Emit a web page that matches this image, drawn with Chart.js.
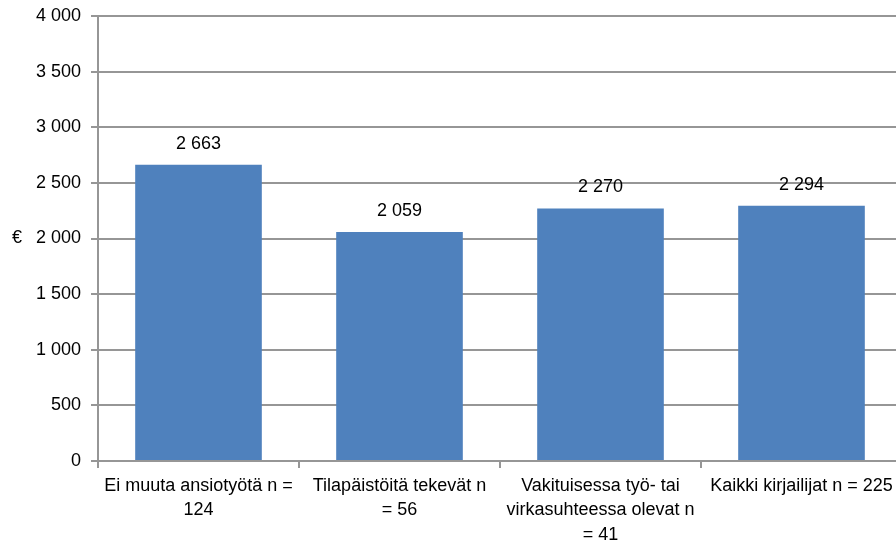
<!DOCTYPE html>
<html>
<head>
<meta charset="utf-8">
<script src="https://cdn.jsdelivr.net/npm/chart.js@4"></script>
<style>
  html, body { margin: 0; padding: 0; background: #fff; overflow: hidden; }
</style>
</head>
<body>
<canvas id="chart" width="904" height="547"></canvas>
<script>
const categories = [
    ['Ei muuta ansiotyötä n =', '124'],
    ['Tilapäistöitä tekevät n', '= 56'],
    ['Vakituisessa työ- tai', 'virkasuhteessa olevat n', '= 41'],
    'Kaikki kirjailijat n = 225'
];
const earnings = [2663, 2059, 2270, 2294];
const yMin = 0, yMax = 4000, yStep = 500;
const yTitle = '€';

function fmt(v) {
    return String(v).replace(/\B(?=(\d{3})+(?!\d))/g, ' ');
}

const gridColor = '#969696';
Chart.defaults.font.family = "'Liberation Sans', Arial, sans-serif";
Chart.defaults.font.size = 18;
Chart.defaults.color = '#000';

// value labels over bars + horizontal axis title
const barLabels = {
    id: 'barLabels',
    afterDatasetsDraw(chart) {
        const ctx = chart.ctx;
        ctx.save();
        ctx.font = "18px 'Liberation Sans', Arial, sans-serif";
        ctx.fillStyle = '#000';
        ctx.textAlign = 'center';
        ctx.textBaseline = 'middle';
        chart.getDatasetMeta(0).data.forEach((bar, i) => {
            ctx.fillText(fmt(earnings[i]), bar.x, bar.y - 21);
        });
        const area = chart.chartArea;
        ctx.fillText(yTitle, 17, (area.top + area.bottom) / 2);
        ctx.restore();
    }
};

function renderChart() {
    const ctx = document.getElementById('chart').getContext('2d');
    new Chart(ctx, {
        type: 'bar',
        data: {
            labels: categories,
            datasets: [{
                data: earnings,
                backgroundColor: '#4F81BD',
                barPercentage: 0.63,
                categoryPercentage: 1
            }]
        },
        options: {
            responsive: false,
            animation: false,
            layout: { padding: { top: 16, right: 2, left: 0, bottom: 0 } },
            plugins: {
                legend: { display: false },
                tooltip: { enabled: false }
            },
            scales: {
                x: {
                    afterFit(scale) {
                        scale.height = 86;
                        scale.paddingLeft = 0;
                        scale.paddingRight = 0;
                    },
                    grid: {
                        drawOnChartArea: false,
                        drawTicks: true,
                        tickLength: 7,
                        color: gridColor,
                        lineWidth: 2
                    },
                    border: { color: gridColor, width: 2 },
                    ticks: {
                        padding: 6,
                        maxRotation: 0,
                        autoSkip: false,
                        font: { lineHeight: 1.35 }
                    }
                },
                y: {
                    min: yMin,
                    max: yMax,
                    afterFit(scale) {
                        scale.width = 98;
                        scale.paddingTop = 0;
                        scale.paddingBottom = 0;
                    },
                    grid: {
                        color: gridColor,
                        lineWidth: 2,
                        tickLength: 7
                    },
                    border: { color: gridColor, width: 2 },
                    ticks: {
                        stepSize: yStep,
                        padding: 10,
                        callback: v => fmt(v)
                    }
                }
            }
        },
        plugins: [barLabels]
    });
}
renderChart();
</script>
</body>
</html>
